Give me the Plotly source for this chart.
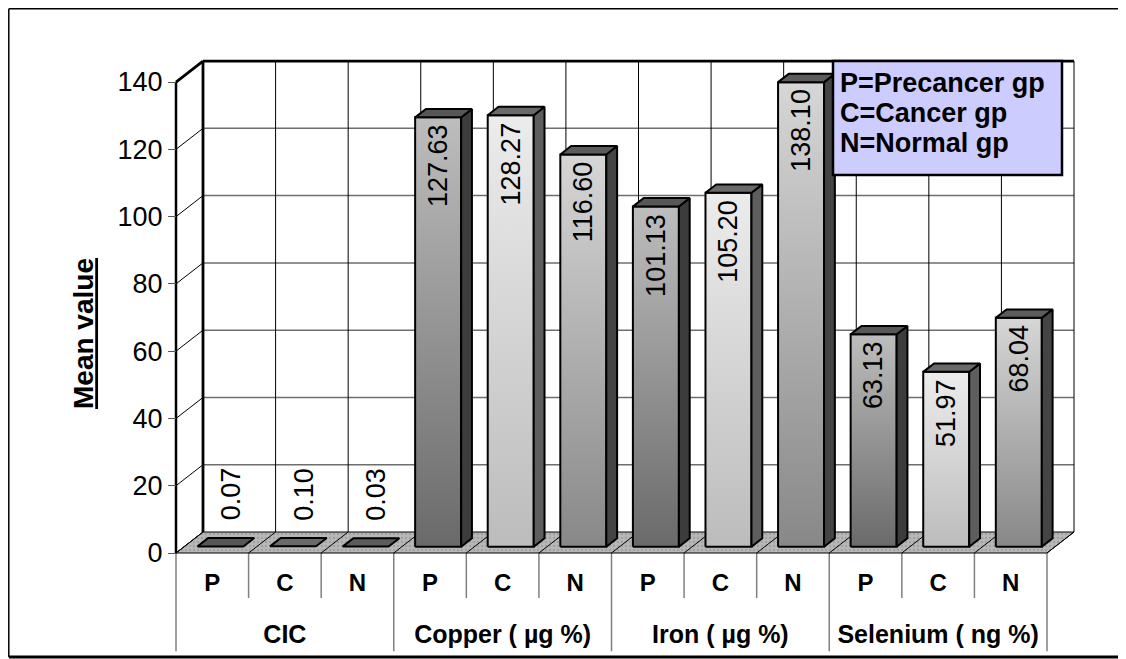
import plotly.graph_objects as go

# ---------------- data ----------------
groups = ["CIC", "Copper ( µg %)", "Iron ( µg %)", "Selenium ( ng %)"]
subgroups = ["P", "C", "N"]
precancer = [0.07, 127.63, 101.13, 63.13]
cancer = [0.10, 128.27, 105.20, 51.97]
normal = [0.03, 116.60, 138.10, 68.04]
legend_lines = ["P=Precancer gp", "C=Cancer gp", "N=Normal gp"]
y_ticks = [0, 20, 40, 60, 80, 100, 120, 140]
y_title = "Mean value"

series = [precancer, cancer, normal]

# ---------------- styles ----------------
OFF = 8                       # page body margin
W, H = 1126 - OFF, 659 - OFF  # figure size
FONT = "Liberation Sans, Arial, sans-serif"
# per series: front bottom, front top, side, top
styles = [
    ("#6a6a6a", "#bdbdbd", "#3c3c3c", "#575757"),
    ("#bcbcbc", "#ececec", "#5e5e5e", "#6a6a6a"),
    ("#888888", "#d6d6d6", "#444444", "#5c5c5c"),
]


def fx(p):  # page x pixel -> paper fraction
    return (p - OFF) / W


def fy(p):  # page y pixel -> paper fraction
    return 1 - (p - OFF) / H


# pixel geometry of the 3D frame (page pixels, layout only)
PX_X0, PX_X12, PX_Y0 = 176.0 - OFF, 1047.0 - OFF, 553.0 - OFF
PX_PER_V = 3.364
CW = (PX_X12 - PX_X0) / 12.0
XR = [(0 - PX_X0) / CW, (W - PX_X0) / CW]
YR = [(PX_Y0 - H) / PX_PER_V, PX_Y0 / PX_PER_V]
DX = 27.0 / CW          # depth offset in x units
DY = 21.0 / PX_PER_V    # depth offset in value units
BW = 46.0 / CW          # bar width
F0, F1 = 0.3, 0.7       # bar depth position
YMAX = y_ticks[-1]
ncat = len(groups) * len(subgroups)

fig = go.Figure()
shapes = []


def seg(x0, y0, x1, y1, color="#000", width=1.0):
    shapes.append(dict(type="line", xref="x", yref="y", x0=x0, y0=y0, x1=x1, y1=y1,
                       line=dict(color=color, width=width), layer="below"))


def pseg(x0, y0, x1, y1, color="#000", width=1.0):
    shapes.append(dict(type="line", xref="paper", yref="paper", x0=fx(x0), y0=fy(y0),
                       x1=fx(x1), y1=fy(y1), line=dict(color=color, width=width), layer="above"))


# back wall fill
shapes.append(dict(type="rect", xref="x", yref="y", x0=DX, x1=ncat + DX, y0=DY, y1=YMAX + DY,
                   fillcolor="white", line=dict(width=0), layer="below"))
# back wall horizontal gridlines
for v in y_ticks[1:-1]:
    seg(DX, v + DY, ncat + DX, v + DY, "#6e6e6e", 1.5)
# back wall vertical gridlines
for k in range(1, ncat + 1):
    seg(k + DX, DY, k + DX, YMAX + DY, "#000", 1)
# left wall tick diagonals
for v in y_ticks[:-1]:
    seg(0, v, DX, v + DY, "#000", 1)

# floor
fig.add_trace(go.Scatter(
    x=[0, ncat, ncat + DX, DX, 0], y=[0, 0, DY, DY, 0], mode="lines", fill="toself",
    fillcolor="#b4b4b4",
    fillpattern=dict(shape=".", bgcolor="#b8b8b8", fgcolor="#8c8c8c", size=4, solidity=0.3),
    line=dict(color="#000", width=1), hoverinfo="skip", showlegend=False))
for k in range(ncat + 1):
    fig.add_trace(go.Scatter(x=[k, k + DX], y=[0, DY], mode="lines",
                             line=dict(color="#000", width=1), hoverinfo="skip", showlegend=False))

# thick frame edges
seg(DX, DY, DX, YMAX + DY, "#000", 2.8)
seg(DX, YMAX + DY, ncat + DX, YMAX + DY, "#000", 2.8)
seg(0, YMAX, DX, YMAX + DY, "#000", 2.8)
seg(0, 0, 0, YMAX, "#000", 2.5)

# category separators below the floor
for k in range(ncat + 1):
    bottom = -29.2 if k % 3 == 0 else -13.4
    seg(k, 0, k, bottom, "#808080", 1.5)

# bars
annotations = []
dxd, dyd = (F1 - F0) * DX, (F1 - F0) * DY
for g in range(len(groups)):
    for s, vals in enumerate(series):
        v = vals[g]
        i = g * 3 + s
        fb, ft, sc, tc = styles[s]
        x0 = i + (1 - BW) / 2 + F0 * DX
        x1 = x0 + BW
        yb = F0 * DY
        yt = v + F0 * DY
        if v > 1:
            fig.add_trace(go.Scatter(
                x=[x0, x1, x1, x0, x0], y=[yb, yb, yt, yt, yb], mode="lines", fill="toself",
                fillgradient=dict(type="vertical", colorscale=[[0, fb], [1, ft]]),
                line=dict(color="#000", width=2), hoverinfo="skip", showlegend=False))
            fig.add_trace(go.Scatter(
                x=[x1, x1 + dxd, x1 + dxd, x1, x1], y=[yb, yb + dyd, yt + dyd, yt, yb],
                mode="lines", fill="toself", fillcolor=sc,
                line=dict(color="#000", width=2), hoverinfo="skip", showlegend=False))
        fig.add_trace(go.Scatter(
            x=[x0, x1, x1 + dxd, x0 + dxd, x0], y=[yt, yt, yt + dyd, yt + dyd, yt],
            mode="lines", fill="toself", fillcolor=tc,
            line=dict(color="#000", width=2), hoverinfo="skip", showlegend=False))
        cx = x0 + BW / 2
        if v > 10:
            annotations.append(dict(x=cx, y=yt, xref="x", yref="y", text=f"{v:.2f}",
                                    textangle=-90, showarrow=False, xanchor="center",
                                    yanchor="top", yshift=-5,
                                    font=dict(family=FONT, size=27, color="#000")))
        else:
            annotations.append(dict(x=cx, y=yt, xref="x", yref="y", text=f"{v:.2f}",
                                    textangle=-90, showarrow=False, xanchor="center",
                                    yanchor="bottom", yshift=24, xshift=11,
                                    font=dict(family=FONT, size=27, color="#000")))

# legend box
shapes.append(dict(type="rect", xref="paper", yref="paper", x0=fx(833), x1=fx(1062),
                   y0=fy(175), y1=fy(61), fillcolor="#ccccff",
                   line=dict(color="#000", width=2.5), layer="above"))
for j, t in enumerate(legend_lines):
    annotations.append(dict(x=fx(838), y=fy(83 + 30 * j), xref="paper", yref="paper",
                            text=f"<b>{t}</b>", showarrow=False, xanchor="left", yanchor="middle",
                            font=dict(family=FONT, size=27, color="#000")))

# outer border (top/left drawn at the very edge of the figure)
pseg(8.8, 8.8, 1121, 8.8, "#000", 1.5)
pseg(8.8, 8.8, 8.8, 657, "#000", 1.5)
pseg(8.8, 657, 1126, 657, "#000", 3)

fig.update_layout(
    width=W, height=H, margin=dict(l=0, r=0, t=0, b=0),
    paper_bgcolor="white", plot_bgcolor="white",
    shapes=shapes, annotations=annotations, showlegend=False,
    font=dict(family=FONT, color="#000"),
    xaxis=dict(range=XR, showgrid=False, zeroline=False, showline=False,
               tickvals=[i + 0.5 for i in range(ncat)],
               ticktext=[f"<b>{subgroups[i % 3]}</b>" for i in range(ncat)],
               ticks="", anchor="free", position=1 - PX_Y0 / H, ticklabelstandoff=13,
               tickfont=dict(family=FONT, size=24, color="#000")),
    xaxis2=dict(range=XR, overlaying="x", showgrid=False, zeroline=False, showline=False,
                tickvals=[3 * g + 1.5 for g in range(len(groups))],
                ticktext=[f"<b>{t}</b>" for t in groups],
                ticks="", anchor="free", position=1 - PX_Y0 / H, ticklabelstandoff=64,
                side="bottom", tickfont=dict(family=FONT, size=25, color="#000")),
    yaxis=dict(range=YR, showgrid=False, zeroline=False, showline=False,
               tickvals=y_ticks, ticks="outside", ticklen=8, tickcolor="#555", tickwidth=1,
               anchor="free", position=PX_X0 / W,
               tickfont=dict(family=FONT, size=27, color="#000"),
               title=dict(text=f"<b><u>{y_title}</u></b>", standoff=14,
                          font=dict(family=FONT, size=28, color="#000"))),
)
# dummy trace to activate xaxis2
fig.add_trace(go.Scatter(x=[None], y=[None], xaxis="x2", showlegend=False, hoverinfo="skip"))

fig.write_html("out.html")
